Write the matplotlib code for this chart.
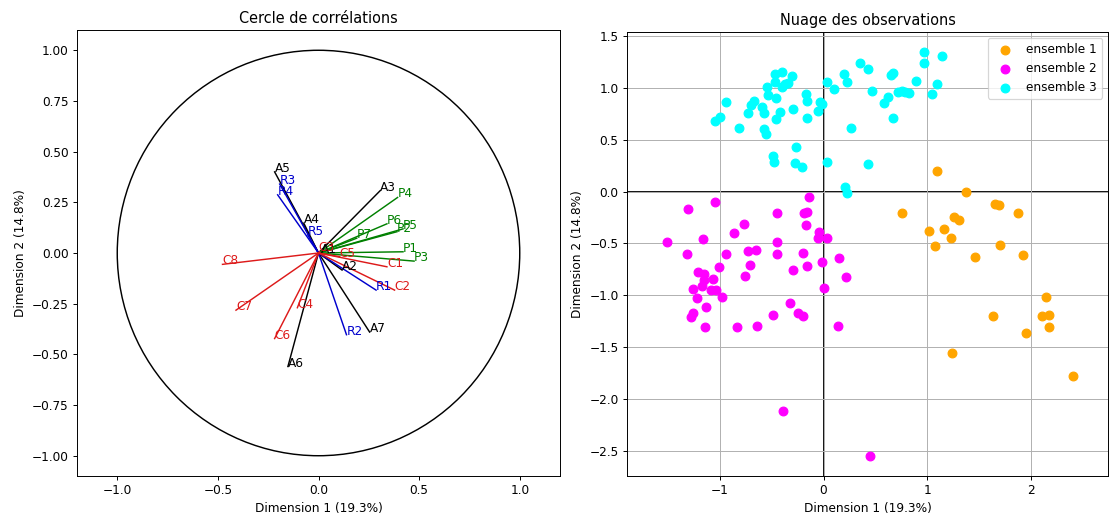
import numpy as np
import matplotlib
matplotlib.use("Agg")
import matplotlib.pyplot as plt
from matplotlib.patches import Circle

# ---- correlation circle data ----
var_names = ["A1", "A2", "A3", "A4", "A5", "A6", "A7",
             "R1", "R2", "R3", "R4", "R5",
             "P1", "P2", "P3", "P4", "P5", "P6", "P7",
             "C1", "C2", "C3", "C4", "C5", "C6", "C7", "C8"]
var_dim1 = [0.01, 0.117, 0.307, -0.073, -0.218, -0.152, 0.254,
            0.286, 0.139, -0.193, -0.203, -0.053,
            0.420, 0.390, 0.475, 0.393, 0.420, 0.340, 0.190,
            0.340, 0.378, 0.0, -0.105, 0.105, -0.218, -0.410, -0.477]
var_dim2 = [0.0, -0.084, 0.308, 0.147, 0.400, -0.560, -0.390,
            -0.183, -0.403, 0.340, 0.287, 0.089,
            0.006, 0.105, -0.040, 0.274, 0.119, 0.144, 0.073,
            -0.068, -0.183, 0.01, -0.270, -0.018, -0.422, -0.282, -0.056]
group_colors = {"A": "black", "R": "mediumblue", "P": "green", "C": "#dd1a1a"}

# ---- observations ----
ens1_x = [1.093, 1.376, 1.655, 1.694, 0.761, 1.260, 1.308, 1.021, 1.166, 1.234,
          1.076, 1.881, 1.704, 1.466, 1.922, 2.145, 2.106, 2.180, 1.636, 2.180,
          1.955, 1.237, 2.411]
ens1_y = [0.201, -0.008, -0.121, -0.127, -0.204, -0.243, -0.275, -0.384, -0.365, -0.446,
          -0.523, -0.204, -0.516, -0.632, -0.616, -1.021, -1.199, -1.192, -1.199, -1.311,
          -1.369, -1.556, -1.778]

ens2_x = [-0.140, -1.047, -1.305, -0.452, -0.185, -0.156, -0.767, -0.169, -0.861, -0.043,
          -0.056, 0.031, -1.514, -1.160, -0.452, -1.320, -0.941, -0.726, -0.652, -0.446,
          -0.201, 0.153, -0.014, -0.162, -1.006, -0.709, -0.297, -1.208, -1.153, -0.758,
          0.217, -1.153, -1.064, -1.176, 0.005, -1.263, -1.089, -1.041, -0.977, -1.218,
          -1.134, -0.323, -1.257, -1.282, -0.485, -0.243, -0.201, -1.141, -0.838, -0.645,
          0.143, -0.388, 0.449]
ens2_y = [-0.056, -0.098, -0.172, -0.204, -0.204, -0.195, -0.317, -0.323, -0.404, -0.388,
          -0.446, -0.446, -0.491, -0.459, -0.491, -0.606, -0.606, -0.574, -0.565, -0.606,
          -0.597, -0.645, -0.678, -0.719, -0.726, -0.709, -0.758, -0.774, -0.796, -0.812,
          -0.822, -0.854, -0.845, -0.912, -0.928, -0.944, -0.951, -0.951, -1.021, -1.031,
          -1.118, -1.073, -1.176, -1.208, -1.192, -1.176, -1.202, -1.305, -1.311, -1.295,
          -1.295, -2.119, -2.553]

ens3_x = [-1.047, -0.999, -0.944, -0.819, -0.726, -0.703, -0.671, -0.591, -0.574, -0.574,
          -0.555, -0.542, -0.533, -0.468, -0.468, -0.461, -0.461, -0.420, -0.485, -0.478,
          -0.398, -0.398, -0.372, -0.340, -0.301, -0.291, -0.265, -0.275, -0.210, -0.169,
          -0.162, -0.162, -0.056, -0.034, -0.018, 0.031, 0.037, 0.104,
          0.198, 0.224, 0.352, 0.433, 0.465, 0.584, 0.619, 0.648, 0.674, 0.674,
          0.716, 0.755, 0.787, 0.822, 0.890, 0.967, 0.973, 1.050, 1.099, 1.144,
          0.262, 0.427, 0.208, 0.224]
ens3_y = [0.683, 0.716, 0.867, 0.616, 0.761, 0.835, 0.877, 0.813, 0.755, 0.600,
          0.555, 1.006, 0.931, 1.131, 1.060, 0.902, 0.697, 0.770, 0.343, 0.288,
          1.157, 1.012, 1.035, 1.044, 1.118, 0.796, 0.432, 0.272, 0.234, 0.941,
          0.877, 0.712, 0.780, 0.867, 0.845, 0.288, 1.060, 0.989,
          1.134, 1.060, 1.237, 1.182, 0.973, 0.857, 0.915, 1.125, 1.141, 0.712,
          0.963, 0.970, 0.963, 0.948, 1.070, 1.347, 1.237, 0.938, 1.038, 1.308,
          0.616, 0.262, 0.046, -0.018]

W, H = 1110, 515
DPI = 87
fig = plt.figure(figsize=(W / DPI, H / DPI), dpi=DPI)

ax1 = fig.add_axes([77 / W, 1 - 476 / H, 483 / W, 446 / H])
for name, x, y in zip(var_names, var_dim1, var_dim2):
    c = group_colors[name[0]]
    ax1.plot([0, x], [0, y], color=c, lw=1.2)
    ax1.text(x, y, name, color=c, fontsize=10)
ax1.add_patch(Circle((0, 0), 1, fill=False, color="black", lw=1.2))
ax1.set_xlim(-1.2, 1.2)
ax1.set_ylim(-1.1, 1.1)
ax1.set_xticks([-1.0, -0.5, 0.0, 0.5, 1.0])
ax1.set_yticks([-1.0, -0.75, -0.5, -0.25, 0.0, 0.25, 0.5, 0.75, 1.0])
ax1.set_xlabel("Dimension 1 (19.3%)")
ax1.set_ylabel("Dimension 2 (14.8%)")
ax1.set_title("Cercle de corrélations")

ax2 = fig.add_axes([627 / W, 1 - 476 / H, 481 / W, 444 / H])
ax2.grid(True, zorder=0)
ax2.axhline(0, color="black", lw=1.5, zorder=1)
ax2.axvline(0, color="black", lw=1.5, zorder=1)
ax2.scatter(ens1_x, ens1_y, color="orange", s=52, label="ensemble 1", zorder=3)
ax2.scatter(ens2_x, ens2_y, color="magenta", s=52, label="ensemble 2", zorder=3)
ax2.scatter(ens3_x, ens3_y, color="cyan", s=52, label="ensemble 3", zorder=3)
ax2.set_xlim(-1.897, 2.746)
ax2.set_ylim(-2.746, 1.54)
ax2.set_xticks([-1, 0, 1, 2])
ax2.set_yticks([-2.5, -2.0, -1.5, -1.0, -0.5, 0.0, 0.5, 1.0, 1.5])
ax2.set_xlabel("Dimension 1 (19.3%)")
ax2.set_ylabel("Dimension 2 (14.8%)")
ax2.set_title("Nuage des observations")
ax2.legend(loc="upper right")

fig.savefig("out.png", dpi=DPI)
